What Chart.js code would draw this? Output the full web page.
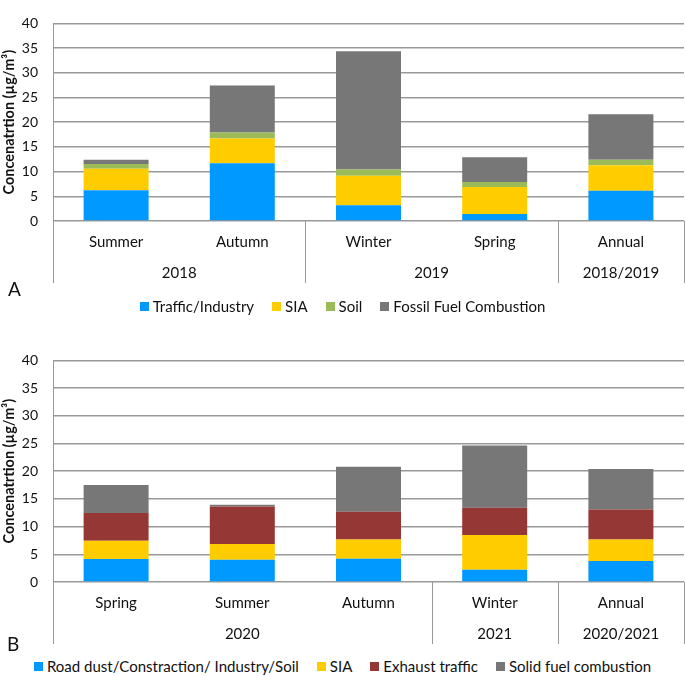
<!DOCTYPE html>
<html><head><meta charset="utf-8">
<script src="https://cdn.jsdelivr.net/npm/chart.js@4.4.1/dist/chart.umd.min.js"></script>
<style>
html,body{margin:0;padding:0;background:#fff;}
body{width:685px;height:676px;position:relative;overflow:hidden;font-family:Lato, sans-serif;color:#111;}
.wrap{position:absolute;left:0;width:685px;}
.panel{position:absolute;font-size:19px;line-height:19px;}
.legend{position:absolute;left:0;width:685px;height:20px;display:flex;justify-content:center;align-items:center;font-size:15px;white-space:nowrap;}
.legend .item{display:flex;align-items:center;margin:0 9px;}
.legend .box{width:9px;height:9px;margin-right:4px;}
</style></head><body>
<div class="wrap" style="top:0;height:284px"><canvas id="cA"></canvas></div>
<div class="wrap" style="top:337px;height:308px"><canvas id="cB"></canvas></div>
<div class="panel" style="left:8px;top:279px">A</div>
<div class="panel" style="left:7px;top:634px">B</div>
<div class="legend" id="lA" style="top:296px"></div>
<div class="legend" id="lB" style="top:656px"></div>
<script>
// ---- Panel A data ----
const categoriesA = ['Summer', 'Autumn', 'Winter', 'Spring', 'Annual'];
const yearLabelsA = ['2018', '2019', '2018/2019'];
const yearSpansA = [2, 2, 1];
const trafficIndustryA = [6.2, 11.7, 3.2, 1.4, 6.1];
const siaA = [4.4, 5.0, 5.95, 5.5, 5.2];
const soilA = [0.95, 1.2, 1.25, 1.0, 1.1];
const fossilFuelA = [0.85, 9.55, 23.95, 5.0, 9.2];

// ---- Panel B data ----
const categoriesB = ['Spring', 'Summer', 'Autumn', 'Winter', 'Annual'];
const yearLabelsB = ['2020', '2021', '2020/2021'];
const yearSpansB = [3, 1, 1];
const roadDustB = [4.15, 4.0, 4.2, 2.2, 3.8];
const siaB = [3.3, 2.85, 3.45, 6.3, 3.85];
const exhaustB = [5.0, 6.8, 5.05, 4.9, 5.45];
const solidFuelB = [5.05, 0.3, 8.1, 11.25, 7.3];

const yMin = 0, yMax = 40, yStep = 5;
const yTitle = 'Concenatrtion (µg/m³)';

const TXT = '#111111';
const GRID = '#999999';
const FONT = 'Lato, sans-serif';

const groupAxisPlugin = {
  id: 'groupAxis',
  afterDraw(chart, args, opts) {
    const x = chart.scales.x;
    const ctx = chart.ctx;
    const y0 = chart.chartArea.bottom;
    const n = chart.data.labels.length;
    const boundary = (i) => i <= 0 ? x.left : (i >= n ? x.right : (x.getPixelForValue(i - 1) + x.getPixelForValue(i)) / 2);
    ctx.save();
    ctx.strokeStyle = GRID;
    ctx.lineWidth = 1;
    let idx = 0;
    const edges = [0];
    opts.spans.forEach(s => { idx += s; edges.push(idx); });
    edges.forEach((e, k) => {
      const px = Math.round(boundary(e)) + 0.5;
      ctx.beginPath();
      ctx.moveTo(px, k === 0 ? chart.chartArea.top : y0);
      ctx.lineTo(px, y0 + opts.lineLen);
      ctx.stroke();
    });
    ctx.fillStyle = TXT;
    ctx.font = '15px ' + FONT;
    ctx.textAlign = 'center';
    ctx.textBaseline = 'middle';
    opts.labels.forEach((lab, k) => {
      const cx = (boundary(edges[k]) + boundary(edges[k + 1])) / 2;
      ctx.fillText(lab, cx, y0 + opts.labelOffset);
    });
    ctx.restore();
  }
};

function makeChart(id, legendId, labels, datasets, yearLabels, yearSpans) {
  const chart = new Chart(document.getElementById(id), {
    type: 'bar',
    data: { labels, datasets: datasets.map(d => ({
      label: d.label, data: d.data, backgroundColor: d.color, borderWidth: 0,
      categoryPercentage: 1, barPercentage: 0.515
    })) },
    options: {
      responsive: true, maintainAspectRatio: false, animation: false,
      layout: { padding: { top: 10, right: 1, left: 0, bottom: 0 } },
      plugins: {
        legend: { display: false }, tooltip: { enabled: false },
        groupAxis: { labels: yearLabels, spans: yearSpans, lineLen: 62, labelOffset: 52 }
      },
      scales: {
        x: {
          stacked: true,
          grid: { display: false, drawTicks: false },
          border: { display: false },
          ticks: { color: TXT, font: { family: FONT, size: 15 }, padding: 12, maxRotation: 0, autoSkip: false },
          afterFit(s) { s.height = 63; }
        },
        y: {
          stacked: true, min: yMin, max: yMax,
          ticks: { stepSize: yStep, color: TXT, font: { family: FONT, size: 14 }, padding: 15 },
          grid: { color: GRID, lineWidth: 1.5, drawTicks: false },
          border: { display: true, color: GRID, width: 1 },
          title: { display: true, text: yTitle, color: TXT, font: { family: FONT, size: 14.5, weight: 'bold' }, padding: { top: 1, bottom: 0 } },
          afterFit(s) { s.width = 53; }
        }
      }
    },
    plugins: [groupAxisPlugin]
  });
  const lg = document.getElementById(legendId);
  chart.data.datasets.forEach(ds => {
    const it = document.createElement('div'); it.className = 'item';
    const b = document.createElement('span'); b.className = 'box'; b.style.background = ds.backgroundColor;
    const t = document.createElement('span'); t.textContent = ds.label;
    it.appendChild(b); it.appendChild(t); lg.appendChild(it);
  });
  return chart;
}

makeChart('cA', 'lA', categoriesA, [
  { label: 'Traffic/Industry', data: trafficIndustryA, color: '#0099FF' },
  { label: 'SIA', data: siaA, color: '#FFCC00' },
  { label: 'Soil', data: soilA, color: '#9BBB59' },
  { label: 'Fossil Fuel Combustion', data: fossilFuelA, color: '#777777' }
], yearLabelsA, yearSpansA);

makeChart('cB', 'lB', categoriesB, [
  { label: 'Road dust/Constraction/ Industry/Soil', data: roadDustB, color: '#0099FF' },
  { label: 'SIA', data: siaB, color: '#FFCC00' },
  { label: 'Exhaust traffic', data: exhaustB, color: '#953735' },
  { label: 'Solid fuel combustion', data: solidFuelB, color: '#777777' }
], yearLabelsB, yearSpansB);
</script>
</body></html>
